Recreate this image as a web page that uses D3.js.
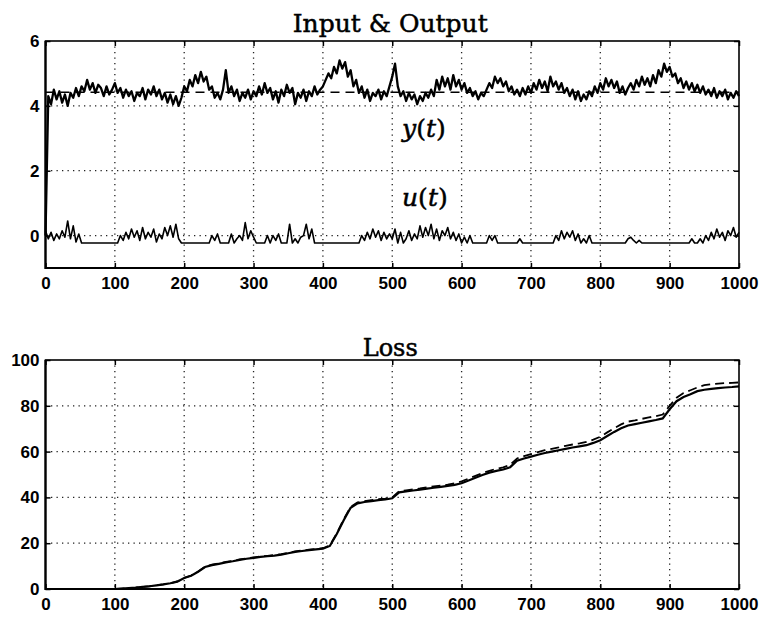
<!DOCTYPE html>
<html><head><meta charset="utf-8">
<script src="https://cdn.jsdelivr.net/npm/d3@7"></script>
<style>
html,body{margin:0;padding:0;background:#fff;}
svg{display:block;}
.tick text{font-family:"Liberation Sans",Arial,sans-serif;font-weight:bold;font-size:17px;fill:#000;}
</style>
</head><body>
<svg id="chart" width="765" height="618"></svg>
<script>
// ---------- DATA ----------
const xTicks = [0,100,200,300,400,500,600,700,800,900,1000];
const yTicksTop = [0,2,4,6];
const yTicksBot = [0,20,40,60,80,100];
const titleTop = "Input & Output";
const titleBot = "Loss";

// y(t), sampled every 4 time steps, t = 0..1000
const yOut = [
 0,4.3,4.05,4.5,4.2,4.45,4.1,4.35,4.0,4.4,4.25,4.55,4.3,4.6,4.45,4.8,4.5,4.7,4.4,4.65,4.55,4.3,4.6,4.35,4.5,
 4.7,4.4,4.55,4.25,4.5,4.3,4.45,4.15,4.4,4.3,4.55,4.2,4.5,4.35,4.6,4.3,4.5,4.2,4.4,4.1,4.35,4.05,4.3,4.0,4.25,
 4.6,4.45,4.8,4.6,4.95,4.7,5.05,4.75,4.9,4.5,4.6,4.25,4.4,4.2,4.5,5.1,4.4,4.6,4.3,4.5,4.15,4.4,4.25,4.5,4.2,
 4.45,4.3,4.6,4.35,4.7,4.4,4.55,4.2,4.45,4.1,4.5,4.3,4.65,4.4,4.55,4.05,4.4,4.25,4.5,4.15,4.45,4.3,4.6,4.35,4.5,
 4.6,4.8,5.0,4.85,5.2,5.0,5.4,5.15,5.35,4.9,5.1,4.6,4.8,4.4,4.6,4.25,4.5,4.15,4.4,4.3,4.5,4.2,4.45,4.3,4.6,
 4.9,5.3,4.6,4.3,4.45,4.15,4.4,4.2,4.35,4.05,4.3,4.15,4.4,4.25,4.5,4.3,4.8,4.5,4.9,4.6,4.85,4.5,4.95,4.6,4.8,
 4.5,4.7,4.4,4.55,4.3,4.45,4.2,4.4,4.3,4.5,4.7,4.55,4.9,4.7,4.85,4.6,4.75,4.45,4.6,4.35,4.5,4.3,4.55,4.35,4.6,
 4.4,4.7,4.5,4.8,4.55,4.75,4.45,4.9,4.6,4.75,4.5,4.7,4.4,4.55,4.3,4.5,4.2,4.45,4.15,4.35,4.2,4.45,4.3,4.6,4.4,
 4.7,4.5,4.85,4.6,4.8,4.55,4.75,4.4,4.6,4.35,4.55,4.7,4.5,4.8,4.6,4.9,4.65,4.85,4.6,4.95,4.7,5.1,4.9,5.3,5.05,
 5.2,4.9,5.0,4.7,4.85,4.55,4.75,4.5,4.7,4.45,4.65,4.4,4.6,4.35,4.5,4.3,4.55,4.25,4.45,4.3,4.5,4.2,4.4,4.25,4.45,
 4.3
];
// u(t), sampled every 4 time steps, t = 0..1000
const uIn = [
 0.15,-0.1,0.1,-0.15,0.05,-0.1,0.15,-0.05,0.45,-0.1,0.3,-0.2,0.05,-0.23,-0.23,-0.23,-0.23,-0.23,-0.23,-0.23,-0.23,-0.23,-0.23,-0.23,-0.23,
 -0.23,-0.23,0.0,-0.15,0.1,-0.1,0.2,-0.05,0.15,-0.15,0.25,-0.1,0.1,-0.05,0.2,-0.2,0.05,-0.1,0.25,0.0,0.3,-0.05,0.35,-0.1,-0.23,
 -0.23,-0.23,-0.23,-0.23,-0.23,-0.23,-0.23,-0.23,-0.23,-0.23,0.0,-0.15,0.05,-0.23,-0.23,-0.23,-0.23,0.05,-0.23,-0.1,0.0,-0.15,0.4,-0.1,0.15,
 -0.05,-0.23,-0.23,-0.23,-0.23,0.0,-0.23,0.0,-0.15,0.05,-0.23,-0.23,-0.23,0.35,-0.23,-0.1,-0.23,-0.05,0.0,0.35,-0.1,0.2,-0.23,-0.23,-0.23,
 -0.23,-0.23,-0.23,-0.23,-0.23,-0.23,-0.23,-0.23,-0.23,-0.23,-0.23,-0.23,-0.23,-0.23,0.0,-0.15,0.1,-0.1,0.2,-0.05,0.15,-0.15,0.1,-0.1,0.05,
 -0.1,0.2,-0.23,0.1,-0.23,-0.1,0.15,-0.15,0.05,-0.1,0.3,-0.05,0.25,0.0,0.35,-0.1,0.2,-0.15,0.15,0.0,0.25,-0.1,0.1,-0.15,0.05,
 -0.23,-0.05,-0.23,0.0,-0.23,-0.23,-0.23,-0.23,-0.23,-0.23,0.0,-0.15,0.0,-0.23,-0.23,-0.23,-0.23,-0.23,-0.23,-0.23,-0.23,-0.1,-0.23,-0.23,-0.23,
 -0.23,-0.23,-0.23,-0.23,-0.23,-0.23,-0.23,-0.23,-0.23,0.0,-0.15,0.15,-0.1,0.1,-0.05,0.15,-0.15,0.05,-0.23,-0.1,-0.23,0.0,-0.23,-0.23,-0.23,
 -0.23,-0.23,-0.23,-0.23,-0.23,-0.23,-0.23,-0.23,-0.23,-0.23,-0.1,-0.05,-0.15,-0.23,-0.15,-0.23,-0.23,-0.23,-0.23,-0.23,-0.23,-0.23,-0.23,-0.23,-0.23,
 -0.23,-0.23,-0.23,-0.23,-0.23,-0.23,-0.23,-0.23,-0.1,-0.23,-0.23,-0.1,-0.23,0.0,-0.15,0.1,-0.1,0.2,-0.05,0.1,-0.15,0.15,0.0,0.25,-0.05,
 0.1
];
const yRef = 4.42;

// Loss, sampled every 10 time steps, t = 0..1000
const lossSolid = [
 0,0,0,0,0,0,0,0,0,0,0,
 0.2,0.4,0.6,0.9,1.2,1.6,2.0,2.5,3.2,4.8,
 5.8,7.5,9.6,10.4,11.0,11.6,12.1,12.7,13.2,13.6,
 14.0,14.3,14.6,15.0,15.6,16.2,16.6,17.0,17.3,17.6,
 18.8,24,30,35.5,37.4,38.0,38.4,38.8,39.1,39.6,
 42.2,42.6,43.0,43.4,43.8,44.2,44.6,45.0,45.5,46.2,
 47.4,48.6,49.8,50.8,51.6,52.2,53.2,56.0,57.0,57.8,
 58.6,59.4,60.0,60.6,61.2,61.8,62.3,62.8,63.8,65.0,
 66.8,68.6,70.2,71.4,72.0,72.6,73.2,73.8,74.5,78.5,
 82.0,83.8,85.0,86.4,87.0,87.4,87.7,88.0,88.2,88.5
];
const lossDashed = [
 0,0,0,0,0,0,0,0,0,0,0,
 0.2,0.4,0.6,0.9,1.2,1.6,2.0,2.5,3.3,4.9,
 5.9,7.6,9.8,10.6,11.2,11.8,12.3,12.9,13.4,13.8,
 14.2,14.5,14.8,15.2,15.8,16.4,16.8,17.2,17.5,17.8,
 19.0,24.3,30.4,35.9,37.8,38.4,38.8,39.2,39.5,40.0,
 42.7,43.1,43.5,43.9,44.4,44.8,45.2,45.6,46.2,47.0,
 48.2,49.4,50.6,51.6,52.5,53.1,54.2,57.0,58.0,58.9,
 59.8,60.6,61.2,61.8,62.5,63.1,63.6,64.2,65.2,66.5,
 68.4,70.2,71.9,73.1,73.6,74.3,74.9,75.5,76.2,80.0,
 83.5,85.6,86.8,88.0,89.0,89.4,89.7,89.9,90.0,90.2
];

// ---------- DRAW ----------
const svg = d3.select("#chart");
const X0 = 45.5, X1 = 739;
const x = d3.scaleLinear().domain([0,1000]).range([X0, X1]);
const yT = d3.scaleLinear().domain([-1,6]).range([268, 41]);
const yB = d3.scaleLinear().domain([0,100]).range([589, 360]);

const tY = d3.range(0, 1001, 4);
const tL = d3.range(0, 1001, 10);

function panel(yScale, yTicks, title, titleY, titleSize) {
  const g = svg.append("g");
  const [yb, yt] = yScale.range();
  const h = yb - yt;
  const w = X1 - X0;
  // grid
  const grid = g.append("g").attr("stroke", "#222").attr("stroke-width", 1.3).attr("stroke-dasharray", "1.3,4.2");
  grid.selectAll("line.v").data(xTicks.slice(1, -1)).join("line")
    .attr("x1", d => x(d)).attr("x2", d => x(d)).attr("y1", yt).attr("y2", yb);
  grid.selectAll("line.h").data(yTicks.filter(d => yScale(d) > yt + 1 && yScale(d) < yb - 1)).join("line")
    .attr("x1", X0).attr("x2", X1).attr("y1", d => yScale(d)).attr("y2", d => yScale(d));
  // axes
  const ax = g.append("g").attr("transform", `translate(0,${yb})`)
    .call(d3.axisBottom(x).tickValues(xTicks).tickSizeInner(-5).tickSizeOuter(0).tickPadding(9).tickFormat(d3.format("d")));
  const axTop = g.append("g").attr("transform", `translate(0,${yt})`)
    .call(d3.axisTop(x).tickValues(xTicks).tickSizeInner(-5).tickSizeOuter(0).tickFormat(""));
  const ayL = g.append("g").attr("transform", `translate(${X0},0)`)
    .call(d3.axisLeft(yScale).tickValues(yTicks).tickSizeInner(-5).tickSizeOuter(0).tickPadding(6).tickFormat(d3.format("d")));
  const ayR = g.append("g").attr("transform", `translate(${X1},0)`)
    .call(d3.axisRight(yScale).tickValues(yTicks).tickSizeInner(-5).tickSizeOuter(0).tickFormat(""));
  [ax, axTop, ayL, ayR].forEach(a => {
    a.select(".domain").remove();
    a.selectAll(".tick line").attr("stroke", "#000").attr("stroke-width", 1.5);
    a.selectAll(".tick text").attr("fill", "#000");
  });
  ax.selectAll(".tick text").attr("dy", "0.71em");
  // frame
  g.append("rect").attr("x", X0).attr("y", yt).attr("width", w).attr("height", h)
    .attr("fill", "none").attr("stroke", "#000").attr("stroke-width", 1.6);
  g.append("path").attr("d", `M${X0},${yt}V${yb}H${X1}`)
    .attr("fill", "none").attr("stroke", "#000").attr("stroke-width", 2.2);
  // title
  svg.append("text").attr("x", (X0 + X1) / 2 - 2).attr("y", titleY)
    .attr("text-anchor", "middle")
    .attr("font-family", "'DejaVu Serif', serif").attr("font-size", titleSize)
    .attr("fill", "#000").attr("stroke", "#000").attr("stroke-width", 0.5).text(title);
  return g;
}

const gTop = panel(yT, yTicksTop, titleTop, 32, 25);
const gBot = panel(yB, yTicksBot, titleBot, 356, 24);

// top plot content
gTop.append("line").attr("x1", x(0)).attr("x2", x(1000)).attr("y1", yT(yRef)).attr("y2", yT(yRef))
  .attr("stroke", "#000").attr("stroke-width", 1.3).attr("stroke-dasharray", "9,6");
const lineY = d3.line().x((d, i) => x(tY[i])).y(d => yT(d));
gTop.append("path").datum(yOut).attr("d", lineY)
  .attr("fill", "none").attr("stroke", "#000").attr("stroke-width", 2.3).attr("stroke-linejoin", "round");
gTop.append("path").datum(uIn).attr("d", lineY)
  .attr("fill", "none").attr("stroke", "#000").attr("stroke-width", 1.6).attr("stroke-linejoin", "round");

function mathLabel(g, parts, px, py) {
  const t = g.append("text").attr("x", px).attr("y", py)
    .attr("font-family", "'DejaVu Serif', serif").attr("font-size", 25).attr("fill", "#000")
    .attr("stroke", "#000").attr("stroke-width", 0.5);
  parts.forEach(p => t.append("tspan").attr("font-style", p[1] ? "italic" : "normal").text(p[0]));
}
mathLabel(gTop, [["y", true], ["(", false], ["t", true], [")", false]], 402, 137);
mathLabel(gTop, [["u", true], ["(", false], ["t", true], [")", false]], 402, 206);

// bottom plot content
const lineL = d3.line().x((d, i) => x(tL[i])).y(d => yB(d));
gBot.append("path").datum(lossDashed).attr("d", lineL)
  .attr("fill", "none").attr("stroke", "#000").attr("stroke-width", 1.8).attr("stroke-dasharray", "9,5");
gBot.append("path").datum(lossSolid).attr("d", lineL)
  .attr("fill", "none").attr("stroke", "#000").attr("stroke-width", 2.2);
</script>
</body></html>
